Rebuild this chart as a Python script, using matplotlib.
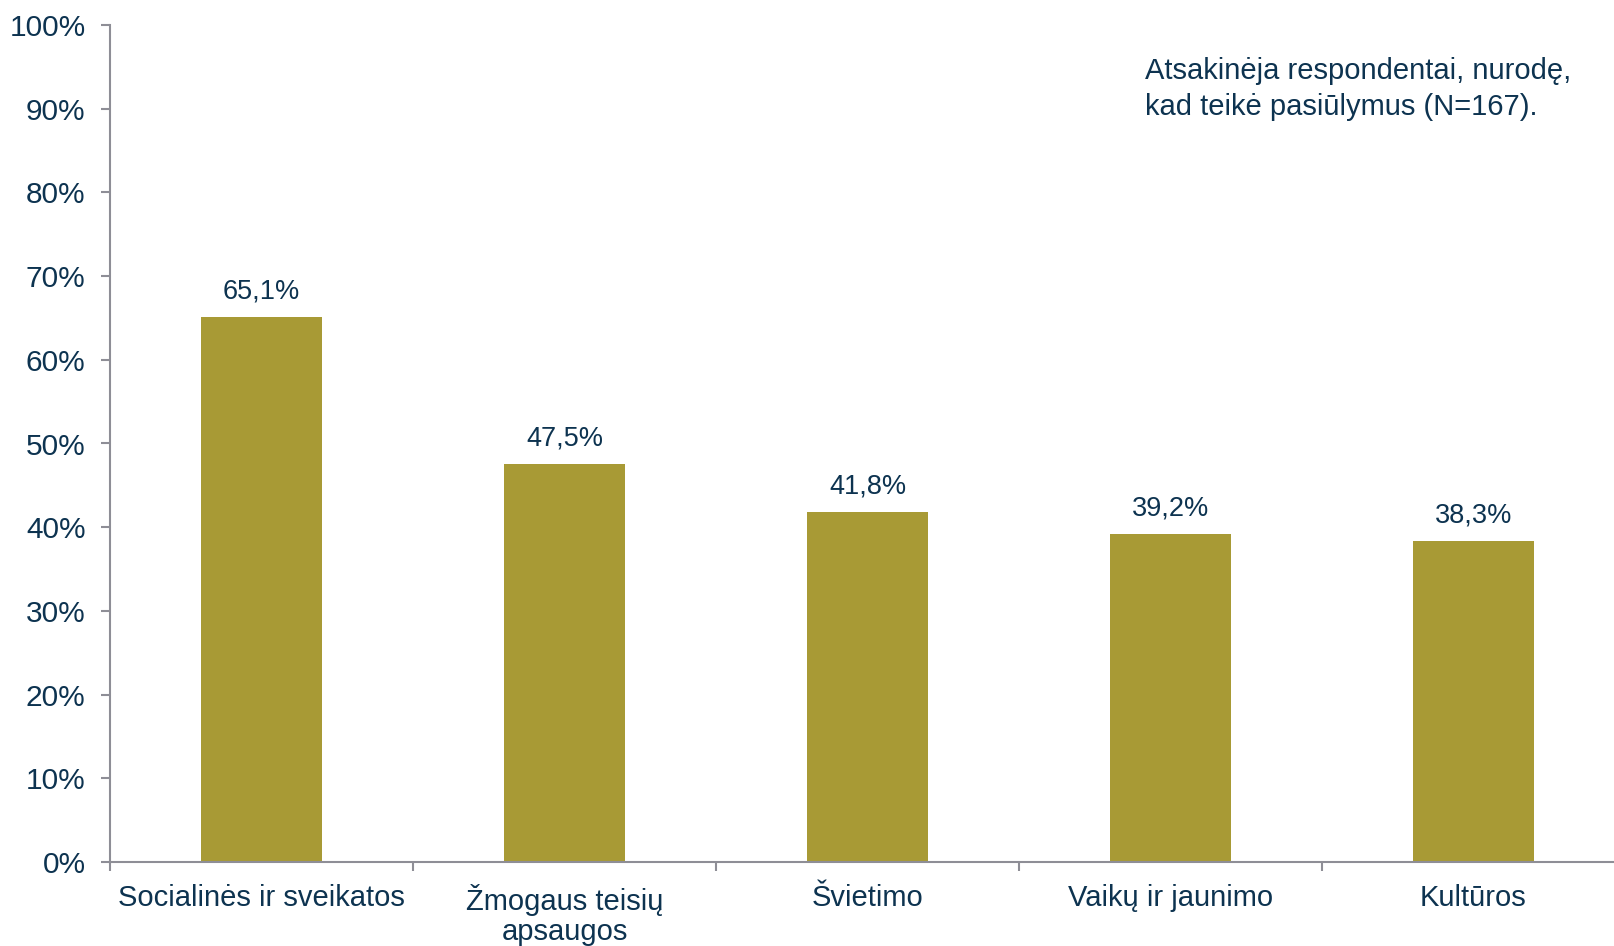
import numpy as np
import matplotlib
matplotlib.use("Agg")
import matplotlib.pyplot as plt
from matplotlib.ticker import FuncFormatter

plt.rcParams['font.family'] = ['Liberation Sans', 'DejaVu Sans']

# data
categories = ["Socialinės ir sveikatos", "Žmogaus teisių\napsaugos", "Švietimo",
              "Vaikų ir jaunimo", "Kultūros"]
values = [65.1, 47.5, 41.8, 39.2, 38.3]
note = "Atsakinėja respondentai, nurodę,\nkad teikė pasiūlymus (N=167)."

text_col = "#0d3350"
axis_col = "#8e8e96"
bar_col = "#a89a35"

fig = plt.figure(figsize=(16.14, 9.46), dpi=100)
ax = fig.add_axes([110 / 1614, 1 - 862 / 946, 1515 / 1614, (862 - 25) / 946])

x = np.arange(len(categories))
bars = ax.bar(x, values, width=0.40, color=bar_col, zorder=2)

for b, v in zip(bars, values):
    ax.annotate(f"{v:.1f}%".replace(".", ","), (b.get_x() + b.get_width() / 2, v),
                xytext=(0, 9), textcoords="offset points", ha="center", va="bottom",
                fontsize=19.5, color=text_col)

ax.set_xlim(-0.5, len(categories) - 0.5)
ax.set_ylim(0, 100)
ax.set_yticks(np.arange(0, 101, 10))
ax.yaxis.set_major_formatter(FuncFormatter(lambda v, p: f"{v:.0f}%"))

ax.set_xticks(x)
ax.set_xticklabels(categories, fontsize=21, color=text_col, linespacing=1.1)
ax.set_xticks(np.arange(-0.5, len(categories), 1), minor=True)
ax.tick_params(axis="x", which="major", length=0, pad=16)
ax.tick_params(axis="x", which="minor", length=6.5, width=1.5, color=axis_col)
ax.tick_params(axis="y", length=6.5, width=1.5, color=axis_col, labelsize=21.5,
               labelcolor=text_col, pad=11)

for s in ["top", "right"]:
    ax.spines[s].set_visible(False)
for s in ["left", "bottom"]:
    ax.spines[s].set_color(axis_col)
    ax.spines[s].set_linewidth(1.5)

fig.text(1145 / 1614, 1 - 57 / 946, note, ha="left", va="top", fontsize=21,
         color=text_col, linespacing=1.35)

fig.savefig("out.png", dpi=100)
